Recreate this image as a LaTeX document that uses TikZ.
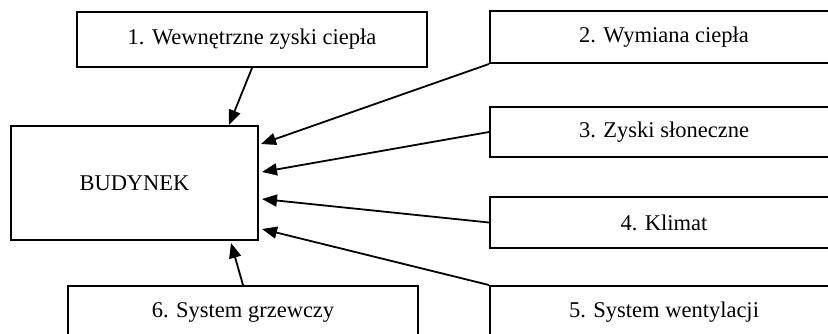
\documentclass[tikz,border=0pt]{standalone}
\usepackage{fontspec}
\setmainfont{Liberation Serif}
\usepackage{tikz}
\usetikzlibrary{arrows.meta,positioning,calc}
\tikzset{
    line/.style   = {-{Triangle[length=15pt,width=12pt]}, line width=1.8pt, draw=black},
    block/.style  = {draw=black, line width=2pt, fill=white,
            minimum width=348pt, minimum height=53pt,
            align=center, inner sep=0pt,
            font=\fontsize{22.5}{27}\selectfont},
    house/.style  = {block, minimum width=247pt, minimum height=114pt},
}
\begin{document}
\begin{tikzpicture}[x=1pt, y={(0pt,-1pt)}]
    \useasboundingbox (0,0) rectangle (828,333);
    \clip (0,0) rectangle (828,333);
    % central box
    \node[house] (budynek) at (134.5,183) {BUDYNEK};
    % influences
    \node[block, minimum width=350pt, minimum height=55pt] (zyski) at (252,39.5) {1. Wewnętrzne zyski ciepła};
    \node[block, minimum height=52pt] (wymiana) at (664,37) {2. Wymiana ciepła};
    \node[block, minimum height=50pt] (sloneczne) at (664,132) {3. Zyski słoneczne};
    \node[block, minimum height=51pt] (klimat) at (664,222.5) {4. Klimat};
    \node[block] (wentylacja) at (664,312.5) {5. System wentylacji};
    \node[block, minimum width=350pt] (grzewczy) at (243,312.5) {6. System grzewczy};
    % arrows into the building
    \draw[line] (zyski.south) -- ([xshift=-30pt]budynek.north east);
    \draw[line] (wymiana.south west) -- ([xshift=2pt,yshift=39pt]budynek.east);
    \draw[line] (sloneczne.west) -- ([xshift=3pt,yshift=11pt]budynek.east);
    \draw[line] (klimat.west) -- ([xshift=3pt,yshift=-16pt]budynek.east);
    \draw[line] (wentylacja.north west) -- ([xshift=3pt,yshift=-46pt]budynek.east);
    \draw[line] (grzewczy.north) -- ([xshift=-28pt,yshift=-2pt]budynek.south east);
\end{tikzpicture}
\end{document}
